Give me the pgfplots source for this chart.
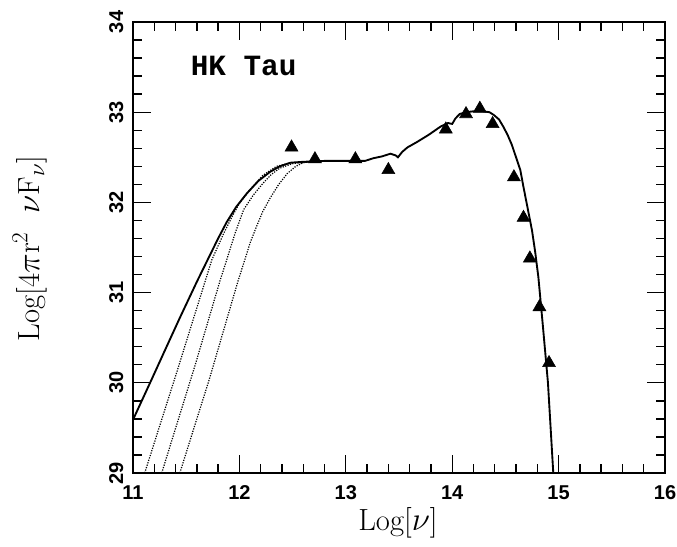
\documentclass[border=0pt]{standalone}
\usepackage{fontspec}
\usepackage{pgfplots}
\pgfplotsset{compat=1.18}
\newfontfamily\tickfont{Liberation Sans}
\newfontfamily\labfont{Liberation Mono}

\begin{document}
\begin{tikzpicture}
\begin{axis}[
    at={(0,0)}, anchor=south west,
    scale only axis,
    width=399pt, height=338.25pt,
    xmin=11, xmax=16, ymin=29, ymax=34,
    xtick={11,12,...,16}, ytick={29,30,...,34},
    minor tick num=4,
    tick pos=both, tick align=inside,
    major tick length=13.5pt, minor tick length=6.75pt,
    every tick/.style={line width=1pt, black},
    axis line style={line width=1.3pt},
    /pgf/number format/assume math mode=true,
    ticklabel style={font=\tickfont\bfseries\fontsize{15}{15}\selectfont},
    xticklabel style={anchor=north, inner sep=0pt},
    xticklabel shift=9pt,
    yticklabel style={rotate=90, anchor=south, inner sep=0pt},
    yticklabel shift=7pt,
    xlabel={Log[$\nu$]},
    ylabel={Log[4$\pi$r$^{2}$\ \ $\nu$F$_{\nu}$]},
    label style={font=\fontsize{23}{26}\selectfont},
    xlabel style={at={(axis description cs:0.498,-0.111)}, anchor=center},
    ylabel style={at={(axis description cs:-0.194,0.498)}, anchor=center},
    clip=true,
]
% model, solid
\addplot[black, line width=1.4pt] coordinates {
(11.00,29.59) (11.18,30.05) (11.30,30.36) (11.44,30.72) (11.60,31.12)
(11.70,31.36) (11.80,31.60) (11.88,31.78) (11.97,31.95) (12.07,32.10)
(12.18,32.24) (12.29,32.34) (12.38,32.40) (12.48,32.44) (12.60,32.45)
(12.80,32.46) (13.00,32.46) (13.18,32.46) (13.26,32.49) (13.34,32.51)
(13.42,32.54) (13.47,32.52) (13.49,32.50) (13.53,32.56) (13.58,32.61)
(13.67,32.67) (13.78,32.75) (13.89,32.84) (13.96,32.88) (14.00,32.87)
(14.03,32.93) (14.07,32.98) (14.13,33.00) (14.20,33.01) (14.29,33.01)
(14.35,33.00) (14.39,32.97) (14.44,32.92) (14.48,32.84) (14.52,32.75)
(14.56,32.64) (14.60,32.50) (14.64,32.36) (14.67,32.17) (14.71,31.93)
(14.75,31.69) (14.78,31.45) (14.81,31.17) (14.85,30.66) (14.90,30.00)
(14.95,29.00)
};
% dotted variants
\addplot[black, densely dotted, line width=0.9pt] coordinates {
(11.11,29.00) (11.42,30.15) (11.74,31.36) (11.85,31.65) (11.93,31.84)
(12.00,31.99) (12.10,32.14) (12.22,32.30) (12.35,32.40) (12.48,32.44)
(12.65,32.45)
};
\addplot[black, densely dotted, line width=0.9pt] coordinates {
(11.27,29.00) (11.58,30.18) (11.82,31.14) (11.88,31.36) (11.96,31.66)
(12.04,31.92) (12.13,32.08) (12.22,32.21) (12.30,32.31) (12.38,32.38)
(12.50,32.43) (12.65,32.45) (12.75,32.46)
};
\addplot[black, densely dotted, line width=0.9pt] coordinates {
(11.44,29.00) (11.72,30.05) (11.99,31.14) (12.05,31.36) (12.10,31.55)
(12.16,31.73) (12.22,31.90) (12.29,32.05) (12.37,32.20) (12.45,32.32)
(12.53,32.40) (12.60,32.44) (12.75,32.46)
};
% observations
\addplot[only marks, mark=triangle*, mark size=5.6pt, black] coordinates {
(12.49,32.61) (12.71,32.48) (13.09,32.48) (13.40,32.36) (13.94,32.81)
(14.13,32.98) (14.26,33.04) (14.38,32.87) (14.58,32.28) (14.67,31.83)
(14.73,31.38) (14.82,30.84) (14.91,30.22)
};
\node[font=\labfont\bfseries\fontsize{22}{22}\selectfont] at (axis cs:12.04,33.51) {HK Tau};
\end{axis}
\pgfresetboundingbox
\path (-99.75pt,-54.75pt) rectangle (408pt,354.75pt);
\end{tikzpicture}
\end{document}
